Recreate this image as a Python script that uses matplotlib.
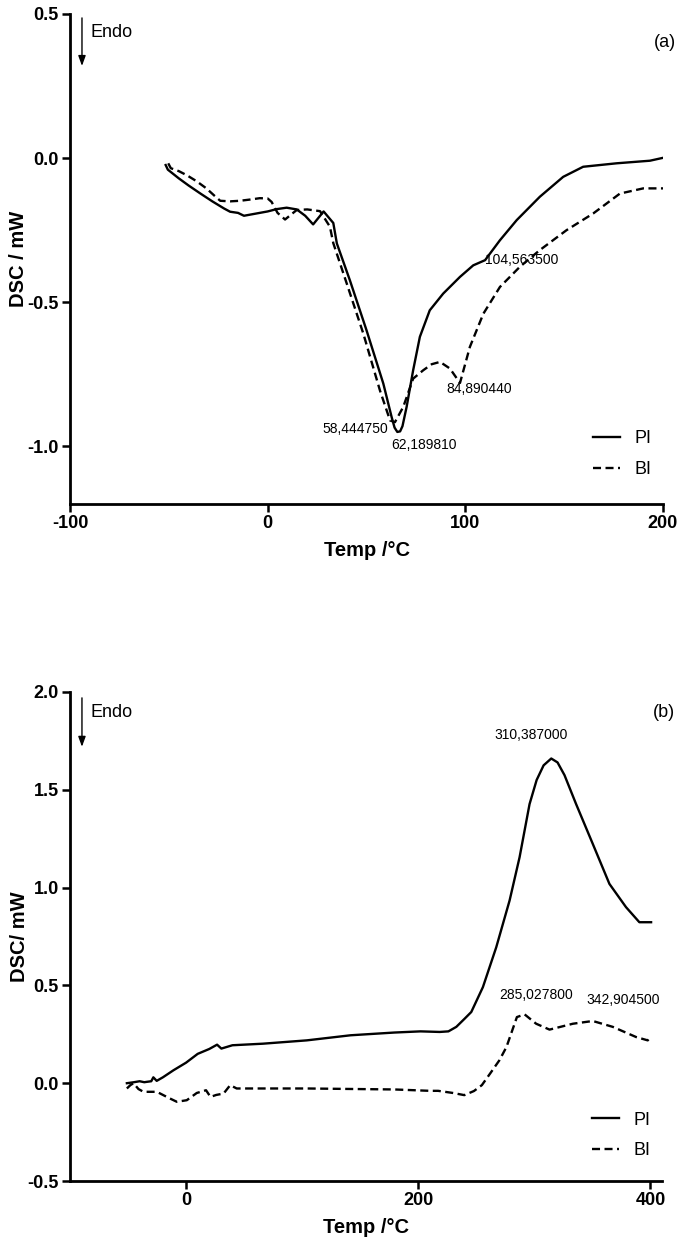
import matplotlib
matplotlib.use("Agg")
import matplotlib.pyplot as plt

plt.rcParams['font.family'] = ['Liberation Sans', 'DejaVu Sans']

# ---------------- (a) data ----------------
a_pi_T = [-51.6, -50.5, -45, -40, -34, -28, -22, -19, -15, -12, -8, -4, 0, 4.5, 9.6, 14.7, 19, 23,
          28.3, 33.2, 35, 41.6, 50, 58.5, 62.7, 64.2, 65.6, 67.0, 68.2, 70.3, 73.6, 77, 82, 88.8,
          97.3, 104, 110, 117.5, 126, 137.7, 149.5, 159.6, 176.5, 193.4, 200]
a_pi_v = [-0.024, -0.04, -0.07, -0.095, -0.123, -0.15, -0.175, -0.186, -0.19, -0.20, -0.195, -0.19,
          -0.185, -0.177, -0.172, -0.178, -0.2, -0.23, -0.185, -0.225, -0.296, -0.424, -0.597,
          -0.782, -0.898, -0.935, -0.950, -0.948, -0.930, -0.863, -0.736, -0.62, -0.528, -0.47,
          -0.412, -0.372, -0.354, -0.285, -0.215, -0.134, -0.065, -0.030, -0.018, -0.009, 0.001]
a_bi_T = [-50.3, -49, -45, -41, -36, -31, -27, -24, -19, -14, -8, -4, 0, 2, 5, 8.8, 12, 14.7, 20,
          26.5, 31.5, 33.2, 40, 48.4, 56.8, 61.9, 64.4, 68.6, 73.6, 78.7, 83, 87.2, 92.2, 97.3,
          102.3, 109.1, 117.5, 127.6, 137.7, 151.2, 164.7, 178.2, 190, 200]
a_bi_v = [-0.018, -0.035, -0.045, -0.059, -0.08, -0.105, -0.13, -0.148, -0.15, -0.148, -0.143,
          -0.139, -0.14, -0.152, -0.19, -0.213, -0.195, -0.18, -0.178, -0.184, -0.238, -0.295,
          -0.435, -0.609, -0.806, -0.91, -0.916, -0.863, -0.765, -0.736, -0.715, -0.707, -0.73,
          -0.78, -0.655, -0.54, -0.447, -0.377, -0.319, -0.25, -0.192, -0.123, -0.105, -0.105]
a_xticks = [-100, 0, 100, 200]
a_yticks = [0.5, 0.0, -0.5, -1.0]
a_ann_text = ["104,563500", "84,890440", "58,444750", "62,189810"]
a_ann_T = [110, 90.4, 60.8, 62.7]
a_ann_v = [-0.355, -0.80, -0.94, -0.997]
a_ann_ha = ["left", "left", "right", "left"]

# ---------------- (b) data ----------------
b_pi_T = [-51, -45, -40, -36, -33.8, -30, -28.2, -25.3, -20, -10.9, 0, 10, 20, 26.7, 30.4, 39.9,
          66.2, 104, 141.7, 179.4, 202, 218.5, 226, 232.8, 240, 245.7, 255.7, 267.2, 278.7, 287.3,
          295.9, 302, 308, 314.6, 320, 326, 336, 350.4, 364.7, 379, 390.5, 400.6]
b_pi_v = [0, 0.005, 0.01, 0.005, 0.007, 0.01, 0.03, 0.012, 0.03, 0.066, 0.105, 0.15, 0.175, 0.197,
          0.177, 0.194, 0.202, 0.219, 0.245, 0.259, 0.265, 0.262, 0.265, 0.288, 0.33, 0.364, 0.491,
          0.695, 0.934, 1.155, 1.427, 1.55, 1.625, 1.66, 1.64, 1.575, 1.427, 1.223, 1.019, 0.90,
          0.823, 0.823]
b_bi_T = [-51, -48, -45.3, -41, -36.7, -25.2, -15, -8, 0.6, 9.2, 17.2, 21, 26, 32.3, 38, 43.6, 104,
          179.4, 210, 217.1, 230, 239.7, 248, 254.8, 262, 269.9, 276, 285, 291.6, 301.6, 313.1,
          333.2, 350.4, 367.6, 387.7, 397.7, 400.6]
b_bi_v = [-0.027, -0.01, 0, -0.03, -0.044, -0.044, -0.075, -0.095, -0.087, -0.05, -0.036, -0.07,
          -0.06, -0.053, -0.01, -0.027, -0.027, -0.032, -0.039, -0.039, -0.05, -0.061, -0.04, -0.01,
          0.05, 0.117, 0.185, 0.338, 0.352, 0.304, 0.274, 0.304, 0.318, 0.288, 0.236, 0.219, 0.24]
b_xticks = [0, 200, 400]
b_yticks = [2.0, 1.5, 1.0, 0.5, 0.0, -0.5]
b_ann_text = ["310,387000", "285,027800", "342,904500"]
b_ann_T = [297, 270, 344.7]
b_ann_v = [1.78, 0.449, 0.427]
b_ann_ha = ["center", "left", "left"]

W, H = 684, 1251
fig = plt.figure(figsize=(W / 100, H / 100), dpi=100)


def px_rect(x0, y0, x1, y1):
    return [x0 / W, 1 - y1 / H, (x1 - x0) / W, (y1 - y0) / H]


ax1 = fig.add_axes(px_rect(70, 14, 663, 504))
ax2 = fig.add_axes(px_rect(70, 692, 662, 1181))

dash = (0, (3.4, 1.9))
lw = 1.7


def style(ax, xticks, yticks, xlim, ylim, ylabel, tag, tagy, arrow_top, arrow_bot, endo_y,
          leg_y):
    ax.set_xlim(*xlim)
    ax.set_ylim(*ylim)
    ax.set_xticks(xticks)
    ax.set_yticks(yticks)
    ax.set_xticklabels([f"{t:g}" for t in xticks])
    ax.set_yticklabels([f"{t:.1f}" for t in yticks])
    for s in ["top", "right"]:
        ax.spines[s].set_visible(False)
    for s in ["left", "bottom"]:
        ax.spines[s].set_linewidth(2.0)
    ax.tick_params(direction="out", length=5.5, width=1.8, pad=2.5, labelsize=13)
    for lab in ax.get_xticklabels() + ax.get_yticklabels():
        lab.set_fontweight("bold")
    ax.set_xlabel("Temp /°C", fontsize=14.5, fontweight="bold")
    ax.set_ylabel(ylabel, fontsize=14.5, fontweight="bold")
    ax.xaxis.set_label_coords(0.5, -0.075)
    ax.yaxis.set_label_coords(-0.07, 0.5)
    ax.text(1.022, tagy, tag, transform=ax.transAxes, ha="right", va="center", fontsize=13)
    ax.annotate("", xy=(0.0202, arrow_bot), xytext=(0.0202, arrow_top),
                xycoords="axes fraction", textcoords="axes fraction",
                arrowprops=dict(arrowstyle="-|>,head_length=0.6,head_width=0.22", lw=1.0,
                                color="black", shrinkA=0, shrinkB=0))
    ax.text(0.034, endo_y, "Endo", transform=ax.transAxes, ha="left", va="center",
            fontsize=13)
    leg = ax.legend(loc="upper left", bbox_to_anchor=(0.882, leg_y), frameon=False,
                    fontsize=13, handlelength=1.5, handletextpad=0.8, labelspacing=0.75,
                    borderpad=0, borderaxespad=0)
    return leg


ax1.plot(a_pi_T, a_pi_v, color="black", lw=lw, label="PI")
ax1.plot(a_bi_T, a_bi_v, color="black", lw=lw, ls=dash, label="BI")
for t, x, y, ha in zip(a_ann_text, a_ann_T, a_ann_v, a_ann_ha):
    ax1.text(x, y, t, fontsize=10, ha=ha, va="center")
style(ax1, a_xticks, a_yticks, (-100, 200), (-1.2, 0.5), "DSC / mW", "(a)", 0.941,
      0.992, 0.894, 0.963, 0.150)

ax2.plot(b_pi_T, b_pi_v, color="black", lw=lw, label="PI")
ax2.plot(b_bi_T, b_bi_v, color="black", lw=lw, ls=dash, label="BI")
for t, x, y, ha in zip(b_ann_text, b_ann_T, b_ann_v, b_ann_ha):
    ax2.text(x, y, t, fontsize=10, ha=ha, va="center")
style(ax2, b_xticks, b_yticks, (-100, 410), (-0.5, 2.0), "DSC/ mW", "(b)", 0.959,
      0.988, 0.888, 0.959, 0.142)

fig.savefig("out.png", dpi=100)
